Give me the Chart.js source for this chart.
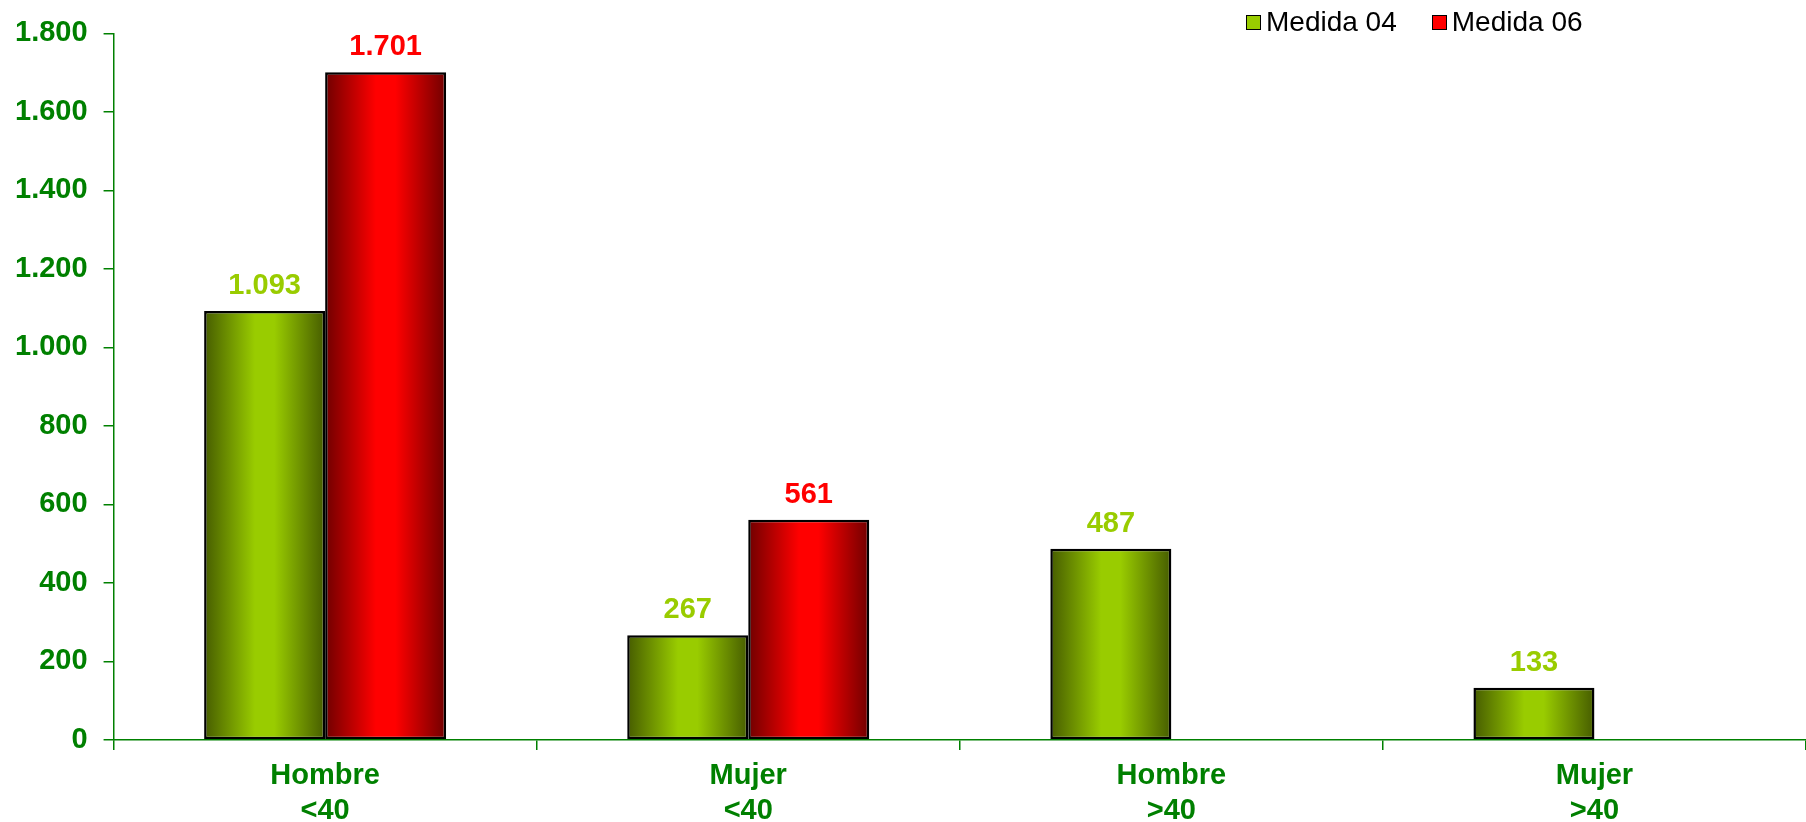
<!DOCTYPE html>
<html>
<head>
<meta charset="utf-8">
<script src="https://cdn.jsdelivr.net/npm/chart.js"></script>
<style>
html, body { margin: 0; padding: 0; background: #fff; }
#wrap { position: relative; width: 1806px; height: 822px; }
#legend { position: absolute; left: 1246px; top: 6px; display: flex; font-family: "Liberation Sans", Arial, sans-serif; font-size: 28px; color: #000; }
.item { display: flex; align-items: center; margin-right: 35px; }
.box { width: 13px; height: 13px; border: 1.5px solid #000; margin-right: 5px; }
</style>
</head>
<body>
<div id="wrap">
<canvas id="chart" width="1806" height="822"></canvas>
<div id="legend"></div>
</div>
<script>
const categories = [['Hombre', '<40'], ['Mujer', '<40'], ['Hombre', '>40'], ['Mujer', '>40']];
const seriesNames = ['Medida 04', 'Medida 06'];
const medida04 = [1093, 267, 487, 133];
const medida06 = [1701, 561, null, null];
const yTicks = { min: 0, max: 1800, step: 200 };

const FONT = '"Liberation Sans", Arial, sans-serif';
const AXIS_GREEN = '#008000';
const shades = [
  { dark: '#465c00', bright: '#99cc00', label: '#99cc00' },
  { dark: '#700000', bright: '#ff0000', label: '#ff0000' }
];

function fmt(v) {
  return String(v).replace(/\B(?=(\d{3})+(?!\d))/g, '.');
}

// gradient per bar, computed from the element's final position
const barShading = {
  id: 'barShading',
  beforeDatasetsDraw(chart) {
    const ctx = chart.ctx;
    chart.data.datasets.forEach((ds, i) => {
      const meta = chart.getDatasetMeta(i);
      meta.data.forEach(el => {
        if (!el.options) return;
        const g = ctx.createLinearGradient(el.x - el.width / 2, 0, el.x + el.width / 2, 0);
        g.addColorStop(0, shades[i].dark);
        g.addColorStop(0.42, shades[i].bright);
        g.addColorStop(0.58, shades[i].bright);
        g.addColorStop(1, shades[i].dark);
        el.options.backgroundColor = g;
      });
    });
  }
};

const valueLabels = {
  id: 'valueLabels',
  afterDatasetsDraw(chart) {
    const ctx = chart.ctx;
    ctx.save();
    ctx.font = 'bold 29px ' + FONT;
    ctx.textAlign = 'center';
    ctx.textBaseline = 'alphabetic';
    chart.data.datasets.forEach((ds, i) => {
      const meta = chart.getDatasetMeta(i);
      meta.data.forEach((el, j) => {
        const v = ds.data[j];
        if (v === null || v === undefined) return;
        ctx.fillStyle = shades[i].label;
        ctx.fillText(fmt(v), el.x, el.y - 17);
      });
    });
    ctx.restore();
  }
};

const chart = new Chart(document.getElementById('chart'), {
  type: 'bar',
  data: {
    labels: categories,
    datasets: [
      { label: seriesNames[0], data: medida04, backgroundColor: () => shades[0].bright, borderColor: '#000', borderWidth: 2.5, borderSkipped: false },
      { label: seriesNames[1], data: medida06, backgroundColor: () => shades[1].bright, borderColor: '#000', borderWidth: 2.5, borderSkipped: false }
    ]
  },
  options: {
    responsive: false,
    animation: false,
    layout: { padding: { left: -1, top: 25, right: 0, bottom: 0 } },
    datasets: { bar: { categoryPercentage: 0.572, barPercentage: 1 } },
    plugins: {
      legend: { display: false },
      tooltip: { enabled: false }
    },
    scales: {
      x: {
        offset: true,
        afterFit: scale => { scale.height = 82; },
        grid: { offset: true, drawOnChartArea: false, drawTicks: true, tickLength: 10, color: AXIS_GREEN, lineWidth: 1.5 },
        border: { color: AXIS_GREEN, width: 1.5 },
        ticks: { color: AXIS_GREEN, padding: 9, maxRotation: 0, font: { family: FONT, size: 29, weight: 'bold', lineHeight: 1.2 } }
      },
      y: {
        min: yTicks.min,
        max: yTicks.max,
        grid: { drawOnChartArea: false, drawTicks: true, tickLength: 10, color: AXIS_GREEN, lineWidth: 1.5 },
        border: { color: AXIS_GREEN, width: 1.5 },
        ticks: { stepSize: yTicks.step, color: AXIS_GREEN, padding: 16, font: { family: FONT, size: 29, weight: 'bold' }, callback: v => fmt(v) }
      }
    }
  },
  plugins: [barShading, valueLabels]
});

// legend
const legend = document.getElementById('legend');
seriesNames.forEach((name, i) => {
  const item = document.createElement('div');
  item.className = 'item';
  const box = document.createElement('span');
  box.className = 'box';
  box.style.background = shades[i].bright;
  const txt = document.createElement('span');
  txt.textContent = name;
  item.appendChild(box);
  item.appendChild(txt);
  legend.appendChild(item);
});
</script>
</body>
</html>
